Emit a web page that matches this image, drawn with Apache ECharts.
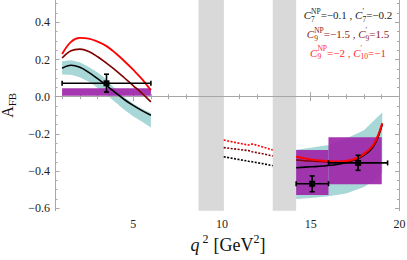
<!DOCTYPE html>
<html><head><meta charset="utf-8">
<script src="https://cdn.jsdelivr.net/npm/echarts@6/dist/echarts.min.js"></script>
<style>html,body{margin:0;padding:0;background:#fff}#c{width:407px;height:260px}</style>
</head><body><div id="c"></div><script>
// ---- data ----
const qLow      = [1.0, 1.5, 2.0, 2.5, 3.0, 3.5, 4.0, 4.5, 5.0, 5.5, 6.0];
const redLow    = [0.230, 0.295, 0.316, 0.312, 0.296, 0.272, 0.235, 0.192, 0.145, 0.095, 0.035];
const darkLow   = [0.208, 0.247, 0.256, 0.243, 0.215, 0.180, 0.143, 0.102, 0.060, 0.018, -0.028];
const blackLow  = [0.153, 0.169, 0.158, 0.131, 0.097, 0.060, 0.022, -0.015, -0.047, -0.075, -0.100];
const bandLowUp = [0.190, 0.196, 0.185, 0.160, 0.130, 0.093, 0.040, -0.003, -0.037, -0.065, -0.088];
const bandLowLo = [0.120, 0.118, 0.105, 0.080, 0.048, 0.012, -0.030, -0.070, -0.105, -0.135, -0.165];

const qMid      = [10.1, 10.8, 11.5, 11.7, 12.3, 12.86];
const redMid    = [-0.233, -0.247, -0.260, -0.254, -0.270, -0.287];
const darkMid   = [-0.274, -0.282, -0.290, -0.296, -0.307, -0.319];
const blackMid  = [-0.323, -0.335, -0.347, -0.350, -0.360, -0.371];

const qHigh     = [14.18, 15.0, 15.7, 16.64, 17.58, 18.15, 18.52, 18.8, 19.03];
const redHigh   = [-0.323, -0.337, -0.344, -0.349, -0.331, -0.296, -0.260, -0.206, -0.143];
const darkHigh  = [-0.340, -0.346, -0.349, -0.353, -0.335, -0.300, -0.264, -0.210, -0.145];
const blackHigh = [-0.382, -0.377, -0.373, -0.362, -0.337, -0.305, -0.269, -0.215, -0.148];

const qBandHigh  = [14.18, 15.0, 16.0, 17.0, 18.0, 18.5, 19.03];
const bandHighUp = [-0.285, -0.275, -0.260, -0.225, -0.180, -0.134, -0.085];
const bandHighLo = [-0.550, -0.545, -0.535, -0.520, -0.485, -0.455, -0.410];

const vetoLo = [8.68, 12.86];
const vetoHi = [10.11, 14.18];

const binLo  = [1.0, 14.18, 16.0];
const binHi  = [6.0, 16.0, 19.0];
const binYLo = [0.005, -0.528, -0.471];
const binYHi = [0.045, -0.287, -0.218];

const ptX   = [3.5, 15.08, 17.67];
const ptY   = [0.072, -0.468, -0.356];
const ptXLo = [1.0, 14.18, 16.0];
const ptXHi = [6.0, 16.0, 19.33];
const ptYLo = [0.025, -0.511, -0.396];
const ptYHi = [0.121, -0.426, -0.315];

const xMajor = [5, 10, 15, 20];
const xMinor = [1, 2, 3, 4, 6, 7, 8, 9, 11, 12, 13, 14, 16, 17, 18, 19];
const yMajor = [-0.6, -0.4, -0.2, 0, 0.2, 0.4];
const yMinor = [-0.55, -0.5, -0.45, -0.35, -0.3, -0.25, -0.15, -0.1, -0.05, 0.05, 0.1, 0.15, 0.25, 0.3, 0.35, 0.45, 0.5];

// ---- chart ----
const SERIF = '"Liberation Serif","Times New Roman",serif';
const X0 = 0.6, X1 = 20, Y0 = -0.613, Y1 = 0.52;
const AX = '#a8a8a8';
const zip = (a, b) => a.map((v, i) => [v, b[i]]);

function xAx(pos, ticks, len, labels, line) {
  return {
    type: 'value', position: pos, min: X0, max: X1,
    axisLine: { show: line, lineStyle: { color: AX, width: 1 } },
    axisTick: { show: true, inside: true, length: len, customValues: ticks, lineStyle: { color: AX, width: 1 } },
    axisLabel: labels ? { show: true, customValues: ticks, margin: 7, color: '#222', fontFamily: SERIF, fontSize: 12 } : { show: false },
    splitLine: { show: false }
  };
}
function yAx(pos, ticks, len, labels, line) {
  return {
    type: 'value', position: pos, min: Y0, max: Y1,
    axisLine: { show: line, lineStyle: { color: AX, width: 1 } },
    axisTick: { show: true, inside: true, length: len, customValues: ticks, lineStyle: { color: AX, width: 1 } },
    axisLabel: labels ? { show: true, customValues: ticks, margin: 5, color: '#222', fontFamily: SERIF, fontSize: 12,
      formatter: v => (v < -1e-9 ? '\u2212' : '') + Math.abs(v).toFixed(1) } : { show: false },
    splitLine: { show: false }
  };
}

const meas = (() => { const c = document.createElement('canvas').getContext('2d'); return (t, f) => { c.font = f; return c.measureText(t).width; }; })();
function rowEls(parts, cx, cy, color) {
  const items = parts.map(p => {
    if (p.t === undefined) {
      const f = (p.fs || 7.5) + 'px ' + SERIF;
      return { p, f, w: Math.max(meas(p.sup || '', f), meas(p.sub || '', f)) + (p.gap || 0) };
    }
    const f = (p.it ? 'italic ' : '') + (p.fs || 11) + 'px ' + SERIF;
    return { p, f, w: meas(p.t, f) + (p.gap || 0) };
  });
  const total = items.reduce((s, a) => s + a.w, 0);
  let x = cx - total / 2;
  const els = [];
  items.forEach(({ p, f, w }) => {
    if (p.t === undefined) {
      if (p.sup) els.push({ type: 'text', x: x, y: cy + (p.supDy !== undefined ? p.supDy : -4), style: { text: p.sup, font: f, fill: color, align: 'left', verticalAlign: 'middle' } });
      if (p.sub) els.push({ type: 'text', x: x, y: cy + (p.subDy !== undefined ? p.subDy : 4), style: { text: p.sub, font: f, fill: color, align: 'left', verticalAlign: 'middle' } });
    } else {
      els.push({ type: 'text', x: x, y: cy, style: { text: p.t, font: f, fill: color, align: 'left', verticalAlign: 'middle' } });
    }
    x += w;
  });
  return els;
}

const legendCx = 348;
const graphics = [].concat(
  rowEls([{ t: 'C', it: true }, { sup: 'NP', sub: '7' }, { t: '=\u22120.1 , ' }, { t: 'C', it: true }, { sup: '\u2032', sub: '7' }, { t: '=\u22120.2' }], legendCx, 15, '#222'),
  rowEls([{ t: 'C', it: true }, { sup: 'NP', sub: '9' }, { t: '=\u22121.5 , ' }, { t: 'C', it: true }, { sup: '\u2032', sub: '9' }, { t: '=1.5' }], legendCx, 34, '#8b1a1a'),
  rowEls([{ t: 'C', it: true }, { sup: 'NP', sub: '9' }, { t: '=\u22122 , ' }, { t: 'C', it: true }, { sup: '\u2032', sub: '10' }, { t: '=\u22121' }], legendCx, 52.5, '#ff2a2a'),
  rowEls([{ t: 'q', it: true, fs: 18, gap: 3 }, { sup: '2', fs: 12, supDy: -6, gap: 5 }, { t: '[GeV', fs: 18 }, { sup: '2', fs: 12, supDy: -6 }, { t: ']', fs: 18 }], 228, 245, '#111')
);

function lineS(q, v, color, w, dashed, smooth) {
  return { type: 'line', xAxisIndex: 0, yAxisIndex: 0, data: zip(q, v), showSymbol: false, symbol: 'none',
    smooth: smooth ? 0.35 : false, z: 5,
    lineStyle: { color, width: w, type: dashed ? [2, 1.5] : 'solid' } };
}
function bandS(q, up, lo) {
  return { type: 'custom', xAxisIndex: 0, yAxisIndex: 0, z: 3, data: [[q[0], up[0]]],
    renderItem: (params, api) => {
      const pts = [];
      for (let i = 0; i < q.length; i++) pts.push(api.coord([q[i], up[i]]));
      for (let i = q.length - 1; i >= 0; i--) pts.push(api.coord([q[i], lo[i]]));
      return { type: 'polygon', shape: { points: pts }, style: { fill: '#a7d7d7' } };
    } };
}

const yMain = yAx('left', yMajor, 4.5, true, true);
yMain.name = '{a|A}{b|FB}';
yMain.nameLocation = 'middle';
yMain.nameRotate = 90;
yMain.nameGap = 38;
yMain.nameTextStyle = { color: '#111', fontFamily: SERIF,
  rich: { a: { fontSize: 16, fontFamily: SERIF, color: '#111', lineHeight: 20, verticalAlign: 'middle' },
          b: { fontSize: 11, fontFamily: SERIF, color: '#111', lineHeight: 11, verticalAlign: 'bottom' } } };

const option = {
  animation: false,
  backgroundColor: '#fff',
  grid: { left: 55, right: 7.5, top: 0, bottom: 49.3, containLabel: false, outerBoundsMode: 'none' },
  xAxis: [xAx('bottom', xMajor, 4.5, true, true), xAx('bottom', xMinor, 2.5, false, false),
          xAx('top', xMajor, 4.5, false, false), xAx('top', xMinor, 2.5, false, false)],
  yAxis: [yMain, yAx('left', yMinor, 2.5, false, false),
          yAx('right', yMajor, 4.5, false, true), yAx('right', yMinor, 2.5, false, false)],
  graphic: graphics,
  series: [
    { type: 'line', xAxisIndex: 0, yAxisIndex: 0, data: [], z: 1,
      markArea: { silent: true, itemStyle: { color: '#d9d9d9' }, data: vetoLo.map((v, i) => [{ xAxis: v }, { xAxis: vetoHi[i] }]) } },
    { type: 'line', xAxisIndex: 0, yAxisIndex: 0, data: [], z: 2,
      markLine: { silent: true, symbol: 'none', label: { show: false }, lineStyle: { color: '#a6a6a6', width: 1, type: 'solid' }, data: [{ yAxis: 0 }] } },
    bandS(qLow, bandLowUp, bandLowLo),
    bandS(qBandHigh, bandHighUp, bandHighLo),
    { type: 'custom', xAxisIndex: 0, yAxisIndex: 0, z: 4,
      data: binLo.map((v, i) => [v, binHi[i], binYLo[i], binYHi[i]]),
      encode: { x: [0, 1], y: [2, 3] },
      renderItem: (params, api) => {
        const a = api.coord([api.value(0), api.value(3)]);
        const b = api.coord([api.value(1), api.value(2)]);
        return { type: 'rect', shape: { x: a[0], y: a[1], width: b[0] - a[0], height: b[1] - a[1] }, style: { fill: 'rgba(158,40,170,0.93)' } };
      } },
    lineS(qLow, blackLow, '#000', 1.6, false, true),
    lineS(qLow, darkLow, '#800000', 1.6, false, true),
    lineS(qLow, redLow, '#ff0000', 1.8, false, true),
    lineS(qMid, blackMid, '#000', 1.6, true, false),
    lineS(qMid, darkMid, '#800000', 1.6, true, false),
    lineS(qMid, redMid, '#ff0000', 1.6, true, false),
    lineS(qHigh, blackHigh, '#000', 1.6, false, true),
    lineS(qHigh, darkHigh, '#800000', 1.6, false, true),
    lineS(qHigh, redHigh, '#ff0000', 2.0, false, true),
    { type: 'custom', xAxisIndex: 0, yAxisIndex: 0, z: 8,
      data: ptX.map((v, i) => [v, ptY[i], ptXLo[i], ptXHi[i], ptYLo[i], ptYHi[i]]),
      encode: { x: [0, 2, 3], y: [1, 4, 5] },
      renderItem: (params, api) => {
        const c = api.coord([api.value(0), api.value(1)]);
        const l = api.coord([api.value(2), api.value(1)]);
        const r = api.coord([api.value(3), api.value(1)]);
        const lo = api.coord([api.value(0), api.value(4)]);
        const hi = api.coord([api.value(0), api.value(5)]);
        const st = { stroke: '#000', lineWidth: 1.6 };
        const cap = 2.5;
        return { type: 'group', children: [
          { type: 'line', shape: { x1: l[0], y1: l[1], x2: r[0], y2: r[1] }, style: st },
          { type: 'line', shape: { x1: lo[0], y1: lo[1], x2: hi[0], y2: hi[1] }, style: st },
          { type: 'line', shape: { x1: l[0], y1: l[1] - cap, x2: l[0], y2: l[1] + cap }, style: st },
          { type: 'line', shape: { x1: r[0], y1: r[1] - cap, x2: r[0], y2: r[1] + cap }, style: st },
          { type: 'line', shape: { x1: lo[0] - cap, y1: lo[1], x2: lo[0] + cap, y2: lo[1] }, style: st },
          { type: 'line', shape: { x1: hi[0] - cap, y1: hi[1], x2: hi[0] + cap, y2: hi[1] }, style: st },
          { type: 'rect', shape: { x: c[0] - 3, y: c[1] - 3, width: 6, height: 6 }, style: { fill: '#000' } }
        ] };
      } }
  ]
};
const chart = echarts.init(document.getElementById('c'), null, { renderer: 'svg' });
chart.setOption(option);
</script></body></html>
